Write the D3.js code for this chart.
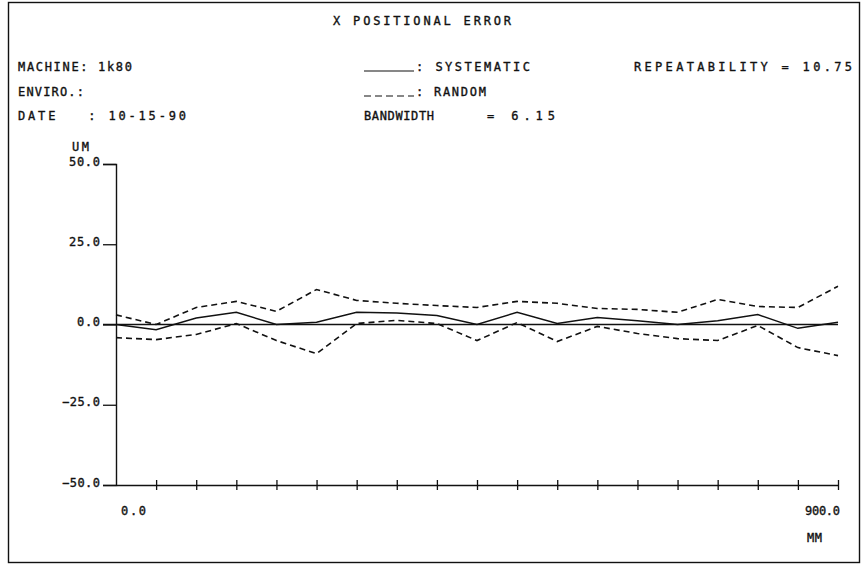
<!DOCTYPE html>
<html>
<head>
<meta charset="utf-8">
<script src="https://cdn.jsdelivr.net/npm/d3@7"></script>
<style>
  html, body { margin: 0; padding: 0; background: #fff; }
  svg text { font-family: "DejaVu Sans Mono", "Liberation Mono", monospace; font-size: 12px; fill: #111; stroke: #111; stroke-width: 0.35px; }
</style>
</head>
<body>
<svg id="chart" width="868" height="567"></svg>
<script>
// Measurement positions along X (mm)
const positions = [0, 50, 100, 150, 200, 250, 300, 350, 400, 450, 500, 550, 600, 650, 700, 750, 800, 850, 900];
// Mean (systematic) positional error, um
const systematic = [0, -1.6, 2.0, 3.8, 0, 0.7, 3.8, 3.6, 2.8, 0, 3.8, 0.3, 2.2, 1.2, 0, 1.2, 3.1, -1.2, 0.7];
// Upper and lower random-error envelopes, um
const randomUpper = [3.0, 0, 5.3, 7.2, 4.1, 10.9, 7.5, 6.6, 5.9, 5.3, 7.2, 6.6, 5.0, 4.7, 3.8, 7.8, 5.6, 5.3, 11.9];
const randomLower = [-4.1, -4.7, -3.1, 0.3, -5.0, -9.1, 0.3, 1.3, 0.3, -5.0, 0.6, -5.3, -0.6, -2.8, -4.4, -5.0, -0.3, -7.2, -9.7];
// Axis ticks
const yTicks = [-50, -25, 0, 25, 50];
const xLabelTicks = [0, 900];

const svg = d3.select("#chart");
const ink = "#111";

// Plotter-style text stretched to a fixed run length
function label(px, py, s, len, anchor) {
  const t = svg.append("text").attr("x", px).attr("y", py)
    .attr("xml:space", "preserve").text(s);
  if (len) t.attr("textLength", len).attr("lengthAdjust", "spacing");
  if (anchor) t.attr("text-anchor", anchor);
  return t;
}

// Frame
svg.append("rect")
  .attr("x", 8.5).attr("y", 2.5).attr("width", 851).attr("height", 560)
  .attr("fill", "none").attr("stroke", ink).attr("stroke-width", 1.4);

// Header
label(333, 25, "X POSITIONAL ERROR", 178);
label(18, 71, "MACHINE: 1k80", 114);
label(18, 96, "ENVIRO.:", 66);
label(18, 120, "DATE   : 10-15-90", 168);

// Legend
svg.append("line").attr("x1", 364).attr("x2", 414).attr("y1", 71).attr("y2", 71)
  .attr("stroke", ink).attr("stroke-width", 1.2);
label(416, 71, ": SYSTEMATIC", 114);
svg.append("line").attr("x1", 364).attr("x2", 414).attr("y1", 96).attr("y2", 96)
  .attr("stroke", ink).attr("stroke-width", 1.2).attr("stroke-dasharray", "7,4");
label(416, 96, ": RANDOM", 70);
label(364, 120, "BANDWIDTH", 70);
label(487, 120, "= 6.15", 68);
label(634, 71, "REPEATABILITY = 10.75", 218);

// Scales
const x = d3.scaleLinear().domain([0, 900]).range([116, 838]);
const y = d3.scaleLinear().domain([-50, 50]).range([485, 164]);

// Y axis
const yAxis = d3.axisLeft(y).tickValues(yTicks).tickSize(13).tickPadding(3).tickFormat(d3.format(".1f"));
const gy = svg.append("g").attr("transform", "translate(116,0)").call(yAxis);
gy.select(".domain").attr("stroke", ink).attr("stroke-width", 1.4);
gy.selectAll(".tick line").attr("stroke", ink).attr("stroke-width", 1.3);
gy.selectAll(".tick text").attr("dy", "0").attr("y", 1).attr("font-family", null).attr("font-size", null).attr("fill", ink)
  .attr("textLength", d => d < 0 ? 38 : (d === 0 ? 23 : 31)).attr("lengthAdjust", "spacing");
label(72, 151, "UM", 17);

// Zero reference line
svg.append("line").attr("x1", 103).attr("x2", x(900)).attr("y1", y(0)).attr("y2", y(0))
  .attr("stroke", ink).attr("stroke-width", 1.4);

// X axis with ticks crossing the line
const xAxis = d3.axisBottom(x).tickValues(positions).tickSize(0).tickFormat("");
const gx = svg.append("g").attr("transform", `translate(0,${y(-50)})`).call(xAxis);
gx.select(".domain").attr("stroke", ink).attr("stroke-width", 1.4);
gx.selectAll(".tick line").attr("y1", -5).attr("y2", 5).attr("stroke", ink).attr("stroke-width", 1.3);
gx.selectAll(".tick").filter(d => d === 0).select("line").remove();

svg.selectAll(".xlab").data(xLabelTicks).enter().append("text")
  .attr("class", "xlab")
  .attr("x", d => d === 0 ? x(d) + 5 : x(d) - 33)
  .attr("y", 515)
  .attr("textLength", d => d === 0 ? 25 : 35).attr("lengthAdjust", "spacing")
  .text(d => d3.format(".1f")(d));
label(807, 542, "MM", 15);

// Curves
const line = d3.line().x((d, i) => x(positions[i])).y(d => y(d));
svg.append("path").datum(systematic).attr("d", line)
  .attr("fill", "none").attr("stroke", ink).attr("stroke-width", 1.5);
[randomUpper, randomLower].forEach(s => {
  svg.append("path").datum(s).attr("d", line)
    .attr("fill", "none").attr("stroke", ink).attr("stroke-width", 1.6)
    .attr("stroke-dasharray", "6,4");
});
</script>
</body>
</html>
